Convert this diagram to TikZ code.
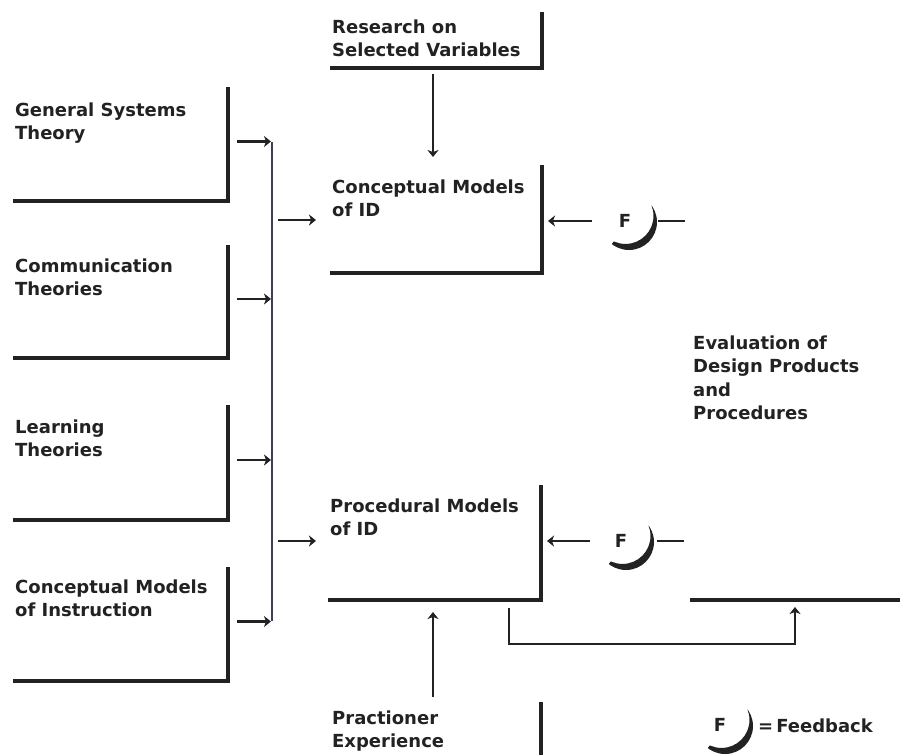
\documentclass[tikz,border=0pt]{standalone}
\usepackage{fontspec}
\setmainfont{DejaVu Sans}
\usetikzlibrary{arrows.meta,calc}
\definecolor{ink}{HTML}{222222}
\definecolor{busline}{HTML}{3C3C5C}
\begin{document}
\begin{tikzpicture}[x=1pt,y=-1pt,
  every node/.style={text=ink},
  area/.style={inner sep=0pt, outer sep=0pt, anchor=north west, draw=none},
  lbl/.style={inner sep=0pt, anchor=north west, align=left,
              font=\bfseries\fontsize{18}{23.5}\selectfont},
  ftxt/.style={inner sep=0pt, font=\bfseries\fontsize{18}{22}\selectfont},
  frame/.style={draw=ink, line width=3.6pt, line join=miter},
  arr/.style={draw=ink, line width=2.4pt,
              -{Stealth[length=7pt,width=11pt,inset=2pt]}},
  loopline/.style={draw=ink, line width=2pt,
              -{Stealth[length=7pt,width=11pt,inset=2pt]}},
  plain/.style={draw=ink, line width=2.4pt},
  busstyle/.style={draw=busline, line width=1.6pt},
  crescent/.pic={
    \begin{scope}
      \clip (0,0) -- ++(-36:45) arc[start angle=-36,end angle=128,radius=45] -- cycle;
      \fill[ink, even odd rule] (0,0) circle[radius=28] (-3.5,-6.06) circle[radius=28];
    \end{scope}
  }
]
\useasboundingbox (0,0) rectangle (900,755);
\clip (0,0) rectangle (900,755);

% box areas (only right and bottom edges are drawn)
\node[area, minimum width=215pt, minimum height=114pt] (gst)   at (13,87)  {};
\node[area, minimum width=215pt, minimum height=113pt] (comm)  at (13,245) {};
\node[area, minimum width=215pt, minimum height=115pt] (learn) at (13,405) {};
\node[area, minimum width=215pt, minimum height=114pt] (cmi)   at (13,567) {};
\node[area, minimum width=212pt, minimum height=56pt]  (resv)  at (330,12) {};
\node[area, minimum width=212pt, minimum height=108pt] (cmid)  at (330,165) {};
\node[area, minimum width=213pt, minimum height=115pt] (pmid)  at (328,485) {};
\node[area, minimum width=211pt, minimum height=100pt] (pract) at (330,702) {};
\node[area, minimum width=300pt, minimum height=300pt] (evalbox) at (690,300) {};

\foreach \b in {gst,comm,learn,cmi,resv,cmid,pmid,pract,evalbox}
  \draw[frame] (\b.north east) -- (\b.south east) -- (\b.south west);

% labels
\node[lbl] (gstT)   at (15,99.5)  {\strut General Systems\\Theory};
\node[lbl] (commT)  at (15,255.5) {\strut Communication\\Theories};
\node[lbl] (learnT) at (15,416.5) {\strut Learning\\Theories};
\node[lbl] (cmiT)   at (15,576.5) {\strut Conceptual Models\\of Instruction};
\node[lbl] (resvT)  at (332,16.5) {\strut Research on\\Selected Variables};
\node[lbl] (cmidT)  at (332,176.5) {\strut Conceptual Models\\of ID};
\node[lbl] (pmidT)  at (330,495.5) {\strut Procedural Models\\of ID};
\node[lbl] (practT) at (332,707.5) {\strut Practioner\\Experience};
\node[lbl] (evalT)  at (693,332.5) {\strut Evaluation of\\Design Products\\and\\Procedures};

% collecting bus
\coordinate (busT) at (272,142);
\coordinate (busB) at (272,621);
\draw[busstyle] (busT) -- (busB);

\foreach \b in {gst,comm,learn,cmi}
  \draw[arr] ($(\b.east)+(9,-2.5)$) -- ++(34,0);

\draw[arr] ($(cmid.west)+(-52,1)$) -- ($(cmid.west)+(-14,1)$);
\draw[arr] ($(pmid.west)+(-50,-1.5)$) -- ($(pmid.west)+(-12,-1.5)$);

% vertical inputs
\draw[arr] ($(resv.south)+(-3,6)$) -- ($(cmid.north)+(-3,-8)$);
\draw[arr] ($(pract.north)+(-2.5,-5)$) -- ($(pmid.south)+(-1.5,12)$);

% evaluation loop
\draw[loopline] ($(pmid.south east)+(-32,8)$) |- ($(evalbox.south west)+(105,44)$)
  -- ($(evalbox.south west)+(105,7)$);

% feedback marks
\node[ftxt] (f1) at (625,221) {F};
\pic at ($(f1)+(4,1)$) {crescent};
\draw[arr] ($(f1)+(-33,0)$) -- ($(f1 -| cmid.east)+(6,0)$);
\draw[plain] ($(f1)+(33,0)$) -- ($(f1)+(60,0)$);

\node[ftxt] (f2) at (621,541) {F};
\pic at ($(f2)+(5,1)$) {crescent};
\draw[arr] ($(f2)+(-31,0)$) -- ($(f2 -| pmid.east)+(6,0)$);
\draw[plain] ($(f2)+(36,0)$) -- ($(f2)+(63,0)$);

% key
\node[ftxt] (f3) at (720,725) {F};
\pic at ($(f3)+(5,1)$) {crescent};
\node[ftxt, anchor=base west] (fkey) at (758,732) {=\,Feedback};
\end{tikzpicture}
\end{document}
